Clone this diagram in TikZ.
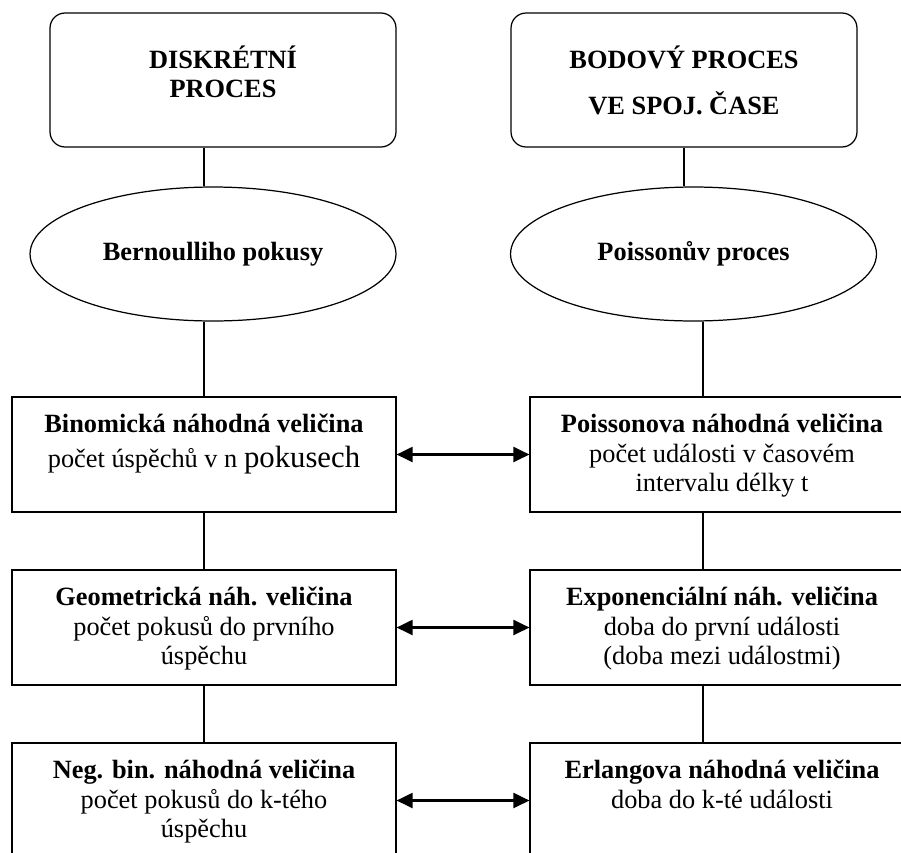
\documentclass[tikz,border=0pt]{standalone}
\usepackage{fontspec}
\setmainfont{Liberation Serif}
\usepackage{tikz}
\usetikzlibrary{arrows.meta}
\usetikzlibrary{shapes.geometric}
\usetikzlibrary{positioning}
\newcommand{\boxtext}[1]{\parbox[c][2.3cm][t]{7.68cm}{\centering\fontsize{15}{16.8}\selectfont\rule{0pt}{20.4pt}#1}}
\newcommand{\rboxtext}[1]{\boxtext{#1}\rule{0.92cm}{0pt}}
\newcommand{\headtext}[1]{\parbox[c][2.68cm][t]{6.92cm}{\centering\fontsize{15}{16.8}\selectfont\bfseries\rule{0pt}{31.5pt}#1}}
\tikzset{box/.style = {draw, rectangle, line width=0.7pt, inner sep=0}}
\tikzset{head/.style = {draw, rectangle, rounded corners=0.3cm, line width=0.7pt, inner sep=0}}
\tikzset{ell/.style = {draw, ellipse, line width=0.7pt, inner sep=0,
                       minimum width=7.32cm, minimum height=2.68cm,
                       font=\fontsize{15}{16.8}\selectfont\bfseries}}
\tikzset{conn/.style = {line width=0.7pt}}
\tikzset{dbl/.style = {{Triangle[length=0.32cm, width=0.3cm]}-{Triangle[length=0.32cm, width=0.3cm]},
                       line width=1.2pt}}

\begin{document}
\begin{tikzpicture}[x=0.02cm, y=-0.02cm]
    \useasboundingbox (0, 0) rectangle (901, 852);
    \clip (0, 0) rectangle (901, 852);

    \node at (223, 80) [head] (diskr) {\headtext{DISKRÉTNÍ\\PROCES}};
    \node at (684, 80) [head] (bodovy) {\headtext{BODOVÝ PROCES\\[9.2pt]VE SPOJ. ČASE}};

    \node at (213, 254) [ell] (bern) {Bernoulliho pokusy};
    \node at (693.5, 254) [ell] (poiss) {Poissonův proces};

    % levy sloupec
    \node at (204, 454.5) [box] (binom) {\boxtext{\textbf{Binomická náhodná veličina}\\[3.1pt]
      počet úspěchů v n {\fontsize{17.5}{20}\selectfont pokusech}}};
    \node at (204, 627.5) [box] (geom) {\boxtext{\textbf{Geometrická náh. veličina}\\
      počet pokusů do prvního\\úspěchu}};
    \node at (204, 800.5) [box] (negbin) {\boxtext{\textbf{Neg. bin. náhodná veličina}\\
      počet pokusů do k-tého\\úspěchu}};

    % pravy sloupec, presahuje pravy okraj
    \node at (745, 454.5) [box] (poissv) {\rboxtext{\textbf{Poissonova náhodná veličina}\\
      počet události v časovém\\intervalu délky t}};
    \node at (745, 627.5) [box] (expon) {\rboxtext{\textbf{Exponenciální náh. veličina}\\
      doba do první události\\(doba mezi událostmi)}};
    \node at (745, 800.5) [box] (erlang) {\rboxtext{\textbf{Erlangova náhodná veličina}\\
      doba do k-té události}};

    \coordinate (rline) at (703, 0);

    \draw [conn] (diskr.south -| binom) -- (bern.north -| binom);
    \draw [conn] (bern.south -| binom) -- (binom.north);
    \draw [conn] (binom.south) -- (geom.north);
    \draw [conn] (geom.south) -- (negbin.north);

    \draw [conn] (bodovy.south) -- (poiss.north -| bodovy.south);
    \draw [conn] (poiss.south -| rline) -- (poissv.north -| rline);
    \draw [conn] (poissv.south -| rline) -- (expon.north -| rline);
    \draw [conn] (expon.south -| rline) -- (erlang.north -| rline);

    \draw [dbl] (binom.east) -- (poissv.west);
    \draw [dbl] (geom.east) -- (expon.west);
    \draw [dbl] (negbin.east) -- (erlang.west);

\end{tikzpicture}
\end{document}
